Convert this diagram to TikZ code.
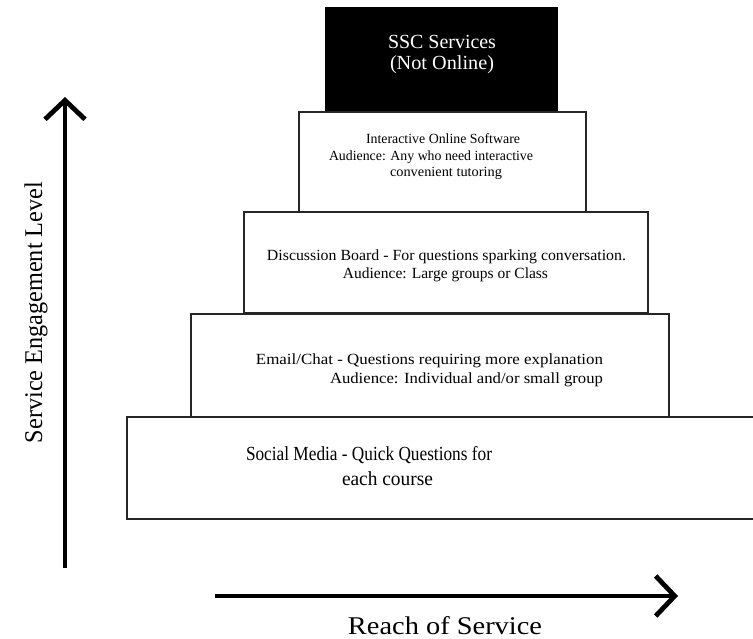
\documentclass[tikz,border=0pt]{standalone}
\usepackage{fontspec}
\setmainfont{Liberation Serif}
\usepackage{graphicx}
\usetikzlibrary{arrows.meta}
\newcommand{\fw}[2]{\resizebox{#1pt}{\height}{#2}}
\begin{document}
\begin{tikzpicture}[x=1pt,y=-1pt,
  box/.style={draw=black!85, line width=1.1pt},
  txt/.style={anchor=base, inner sep=0pt},
  axis/.style={line width=4.8pt, -{Straight Barb[length=19pt,width=40pt]}}]
\useasboundingbox (0,0) rectangle (753,638);
\fill[white] (0,0) rectangle (753,638);
% boxes
\fill[black] (325,7) rectangle (558,111);
\draw[box] (299,112) rectangle (586,212);
\draw[box] (244,212) rectangle (648,313);
\draw[box] (191,314) rectangle (669,417);
\draw[box] (760,417) -- (127,417) -- (127,519) -- (760,519);
% texts
\node[txt, text=white, font=\fontsize{20}{22}\selectfont] (t1a) at (442,48) {\fw{108}{SSC Services}};
\node[txt, text=white, font=\fontsize{20}{22}\selectfont] (t1b) at (442,69) {\fw{104}{(Not Online)}};
\node[txt, font=\fontsize{14}{16}\selectfont] (t2a) at (443,143) {\fw{154}{Interactive Online Software}};
\node[txt, font=\fontsize{14}{16}\selectfont] (t2b) at (431,160) {\fw{204}{Audience: Any who need interactive}};
\node[txt, font=\fontsize{14}{16}\selectfont] (t2c) at (446,176) {\fw{112}{convenient tutoring}};
\node[txt, font=\fontsize{15.5}{18}\selectfont] (t3a) at (446.5,260) {\fw{359}{Discussion Board - For questions sparking conversation.}};
\node[txt, font=\fontsize{15.5}{18}\selectfont] (t3b) at (445.5,278) {\fw{205}{Audience: Large groups or Class}};
\node[txt, font=\fontsize{15.5}{18}\selectfont] (t4a) at (429.5,364) {\fw{347}{Email/Chat - Questions requiring more explanation}};
\node[txt, font=\fontsize{15.5}{18}\selectfont] (t4b) at (466.5,383) {\fw{273}{Audience: Individual and/or small group}};
\node[txt, font=\fontsize{20}{22}\selectfont] (t5a) at (369,460) {\fw{246}{Social Media - Quick Questions for}};
\node[txt, font=\fontsize{20}{22}\selectfont] (t5b) at (387.5,485) {\fw{91}{each course}};
% axes
\coordinate (vb) at (65,568);
\coordinate (vt) at (65,97);
\draw[axis] (vb) -- (vt);
\coordinate (hl) at (215,596);
\coordinate (hr) at (678,596);
\draw[axis] (hl) -- (hr);
\node[txt, rotate=90, font=\fontsize{25.5}{28}\selectfont] (ylab) at (42,312.5) {\fw{261}{Service Engagement Level}};
\node[txt, font=\fontsize{25.5}{28}\selectfont] (xlab) at (445,634) {\fw{194}{Reach of Service}};
\end{tikzpicture}
\end{document}
